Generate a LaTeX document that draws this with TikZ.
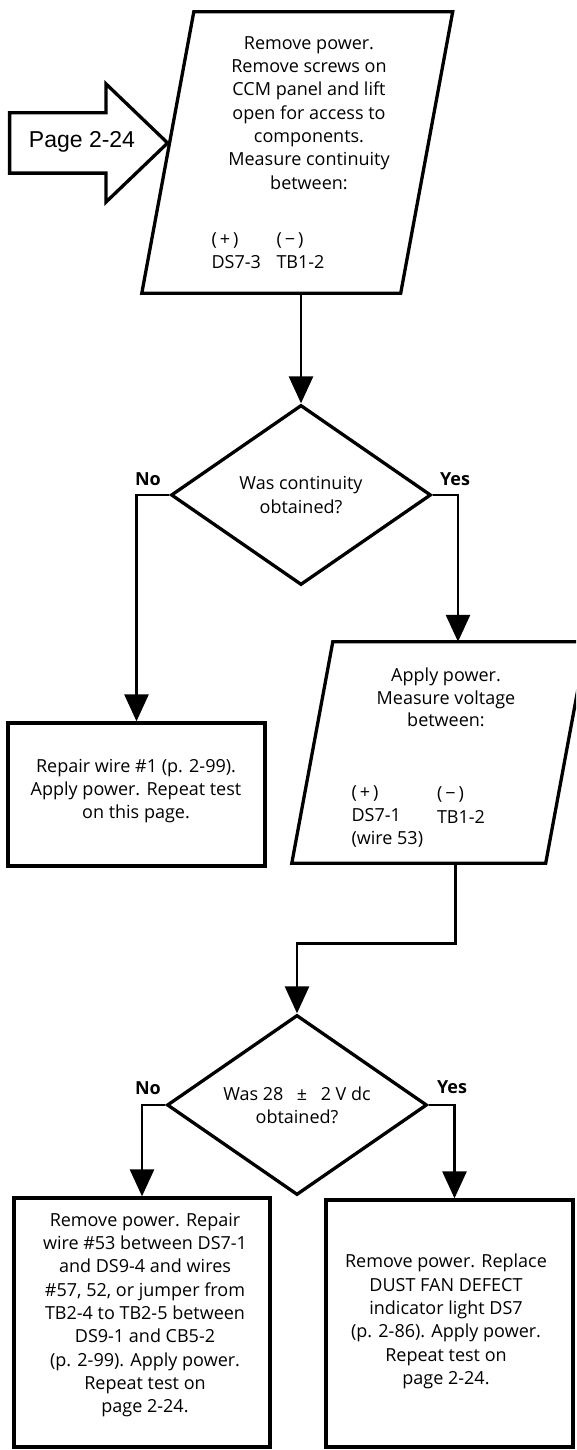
\documentclass[tikz,border=0pt]{standalone}
\usepackage{fontspec}
\setmainfont{Open Sans}
\newfontfamily\arrowfont{Liberation Sans}
\usetikzlibrary{shapes.geometric,shapes.arrows,arrows.meta}

\begin{document}
\begin{tikzpicture}[x=1pt,y=1pt,font=\fontsize{18}{23.3}\selectfont,
    outline/.style={draw,line width=3.3pt,inner sep=0pt},
    iospan/.style={rectangle,inner sep=0pt},
    actbox/.style={outline,rectangle},
    query/.style={outline,diamond,aspect=1.45,minimum width=260pt,minimum height=180pt,align=center},
    flow/.style={line width=2.8pt,-{Triangle[width=24pt,length=27pt]}},
    answer/.style={font=\fontsize{18}{23.3}\selectfont\bfseries}]
  \useasboundingbox (0,0) rectangle (576,1450);
  \clip (0,0) rectangle (576,1450);
  \node[iospan,minimum width=310.5pt,minimum height=281pt] (meas) at (297.25,1297.5) {};
  \draw[outline] (meas.south west) -- ([xshift=-52pt]meas.south east) -- (meas.north east) -- ([xshift=52pt]meas.north west) -- cycle;
  \node[align=center] (meastext) at (309,1337) {Remove power.\\Remove screws on\\CCM panel and lift\\open for access to\\components.\\Measure continuity\\between:};
  \node[anchor=west,align=left] (measpos) at (208,1199.5) {(\,+\,)\\DS7-3};
  \node[anchor=west,align=left] (measneg) at (273,1199.5) {(\,−\,)\\TB1-2};
  \node[outline,single arrow,single arrow head extend=29pt,single arrow tip angle=87.6,inner xsep=0pt,inner ysep=28.5pt,minimum width=115pt,minimum height=158pt,anchor=tip] (entry) at (170,1307) {};
  \node[font=\arrowfont\fontsize{23}{27}\selectfont] (entrytext) at (82,1308) {Page 2-24};
  \node[query] (cont) at (301,955) {Was continuity\\obtained?};
  \node[answer] (no1) at (148,971) {No};
  \node[answer] (yes1) at (455,971) {Yes};
  \node[actbox,minimum width=257pt,minimum height=143pt] (fix1) at (136.5,655.5) {};
  \node[align=center] (fix1text) at (136,659) {Repair wire \#1 (p. 2-99).\\Apply power. Repeat test\\on this page.};
  \node[iospan,minimum width=294.5pt,minimum height=221pt] (apply) at (439.25,697.5) {};
  \draw[outline] (apply.south west) -- ([xshift=-41pt]apply.south east) -- (apply.north east) -- ([xshift=41pt]apply.north west) -- cycle;
  \node[align=center,font=\fontsize{18}{22.5}\selectfont] (applytext) at (446,752.5) {Apply power.\\Measure voltage\\between:};
  \node[anchor=west,align=left] (applypos) at (348,633.5) {(\,+\,)\\DS7-1\\(wire 53)};
  \node[anchor=west,align=left] (applyneg) at (433.5,645) {(\,−\,)\\TB1-2};
  \node[query] (volt) at (297,345) {Was 28\hspace{0.75em}±\hspace{0.75em}2 V dc\\obtained?};
  \node[answer] (no2) at (148,362) {No};
  \node[answer] (yes2) at (452,363) {Yes};
  \node[actbox,minimum width=256pt,minimum height=249pt] (fix2) at (142,127.5) {};
  \node[align=center] (fix2text) at (145,135) {Remove power. Repair\\wire \#53 between DS7-1\\and DS9-4 and wires\\\#57, 52, or jumper from\\TB2-4 to TB2-5 between\\DS9-1 and CB5-2\\(p. 2-99). Apply power.\\Repeat test on\\page 2-24.};
  \node[actbox,minimum width=247pt,minimum height=247pt] (swap) at (449.5,126.5) {};
  \node[align=center] (swaptext) at (446,128.5) {Remove power. Replace\\DUST FAN DEFECT\\indicator light DS7\\(p. 2-86). Apply power.\\Repeat test on\\page 2-24.};
  \draw[flow] (meas.south -| cont.north) -- (cont.north);
  \draw[flow] (cont.west) -| (fix1.north);
  \draw[flow] (cont.east) -| ([xshift=18.75pt]apply.north);
  \draw[flow] ([xshift=16.25pt]apply.south) -- ++(0,-80) -| (volt.north);
  \draw[flow] (volt.west) -| (fix2.north);
  \draw[flow] (volt.east) -| ([xshift=5pt]swap.north);
\end{tikzpicture}
\end{document}
